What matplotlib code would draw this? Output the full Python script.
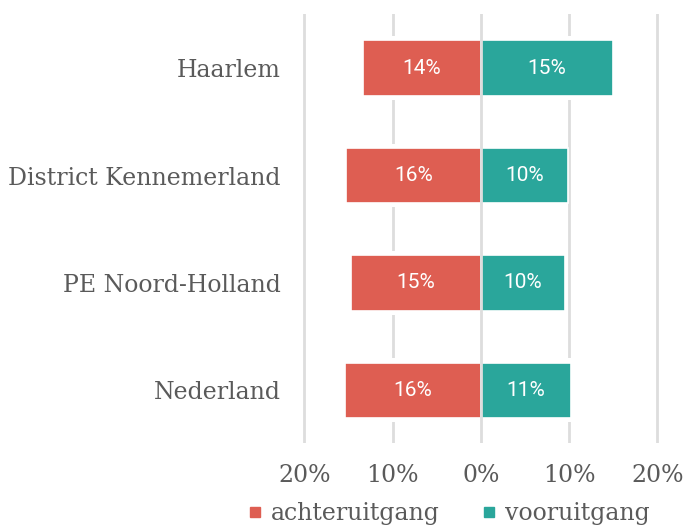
import matplotlib
matplotlib.use("Agg")
import matplotlib.pyplot as plt
from matplotlib.lines import Line2D

categories = ["Haarlem", "District Kennemerland", "PE Noord-Holland", "Nederland"]
achteruitgang = [13.4, 15.3, 14.7, 15.4]
vooruitgang = [15.0, 9.9, 9.5, 10.2]
label_achter = ["14%", "16%", "15%", "16%"]
label_voor = ["15%", "10%", "10%", "11%"]
xticks = [-20, -10, 0, 10, 20]
xtick_labels = ["20%", "10%", "0%", "10%", "20%"]

RED = "#DE5E52"
TEAL = "#2AA69B"
GRID = "#DDDDDD"
TEXT = "#5A5A5A"
SERIF = "DejaVu Serif"
SANS = "Roboto"

fig = plt.figure(figsize=(6.84, 5.27), dpi=100)
ax = fig.add_axes([0.4411, 0.1594, 0.5237, 0.8140])

y = list(range(len(categories)))
h = 0.52
neg = [-v for v in achteruitgang]

# white pads so the gridlines break around the bars
ax.barh(y, neg, height=h + 0.075, color="white", zorder=2)
ax.barh(y, vooruitgang, height=h + 0.075, color="white", zorder=2)
ax.barh(y, neg, height=h, color=RED, edgecolor="white", lw=1.2, zorder=3)
ax.barh(y, vooruitgang, height=h, color=TEAL, edgecolor="white", lw=1.2, zorder=3)

for yi, v, s in zip(y, neg, label_achter):
    ax.text(v / 2, yi, s, ha="center", va="center", color="white",
            fontsize=15, family=SANS, zorder=5)
for yi, v, s in zip(y, vooruitgang, label_voor):
    ax.text(v / 2, yi, s, ha="center", va="center", color="white",
            fontsize=15, family=SANS, zorder=5)

for t in xticks:
    ax.axvline(t, color=GRID, lw=2, zorder=1 if t != 0 else 4)

ax.set_xlim(-20.3, 20.3)
ax.set_ylim(3.489, -0.503)
ax.set_yticks(y)
ax.set_yticklabels(categories, family=SERIF, fontsize=17, color=TEXT)
ax.set_xticks(xticks)
ax.set_xticklabels(xtick_labels, family=SERIF, fontsize=17, color=TEXT)
ax.tick_params(axis="y", length=0, pad=15)
ax.tick_params(axis="x", length=0, pad=15)
for sp in ax.spines.values():
    sp.set_visible(False)

handles = [Line2D([], [], ls="", marker="s", ms=7, color=RED),
           Line2D([], [], ls="", marker="s", ms=7, color=TEAL)]
fig.legend(handles, ["achteruitgang", "vooruitgang"], loc="center",
           bbox_to_anchor=(0.656, 0.025), ncol=2, frameon=False,
           handlelength=0.6, handletextpad=0.4, columnspacing=1.75,
           prop={"family": SERIF, "size": 17}, labelcolor=TEXT)

fig.savefig("out.png", dpi=100)
